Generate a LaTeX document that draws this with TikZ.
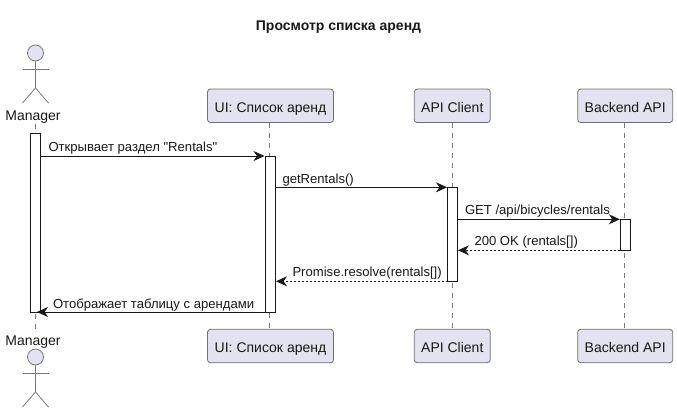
\documentclass[tikz,border=0pt]{standalone}
\usepackage{fontspec}
\setmainfont{Liberation Sans}[Ligatures=TeXOff]
\usetikzlibrary{arrows.meta}
\definecolor{boxfill}{HTML}{E2E2F0}
\definecolor{boxline}{HTML}{6E6E78}
\definecolor{ink}{HTML}{181818}
\definecolor{lifecol}{HTML}{7A7A7A}
\tikzset{
  x=1pt,y=-1pt,
  every node/.style={inner sep=0pt,outer sep=0pt,text=ink},
  party/.style={draw=boxline,fill=boxfill,line width=.8pt,rounded corners=3pt,minimum height=33.5pt,text height=15.5pt,text depth=3pt,font=\fontsize{14}{16}\selectfont},
  actorname/.style={font=\fontsize{14}{16}\selectfont,anchor=base},
  lifeline/.style={draw=lifecol,line width=.7pt,dash pattern=on 5pt off 5pt},
  stick/.style={draw=lifecol,line width=.8pt},
  activation/.style={draw=ink,fill=white,line width=1pt,minimum width=10pt},
  msg/.style={draw=ink,line width=1pt,-{Stealth[length=11pt,width=10pt,inset=3.5pt]}},
  reply/.style={msg,dash pattern=on 2pt off 2pt,-{Stealth[length=11pt,width=10pt,inset=3.5pt,sep=0pt]}},
  msglabel/.style={font=\fontsize{13.1}{15}\selectfont,anchor=base west},
}
\begin{document}
\begin{tikzpicture}
\useasboundingbox (0,0) rectangle (677,413);
\node[font=\bfseries\fontsize{14}{16}\selectfont,anchor=base] (title) at (338.5,30.5) {Просмотр списка аренд};

% participants
\node[actorname] (mT) at (33,120) {Manager};
\node[actorname] (mB) at (33,345) {Manager};
\node[party,minimum width=126pt] (uT) at (270.5,105.8) {UI: Список аренд};
\node[party,minimum width=126pt] (uB) at (270.5,346) {UI: Список аренд};
\node[party,minimum width=76pt] (cT) at (452.3,105.8) {API Client};
\node[party,minimum width=76pt] (cB) at (452.3,346) {API Client};
\node[party,minimum width=95pt] (bT) at (625.2,105.8) {Backend API};
\node[party,minimum width=95pt] (bB) at (625.2,346) {Backend API};

% lifelines
\coordinate (mlT) at (35.5,124);
\coordinate (mlB) at (35.5,329);
\draw[lifeline] (mlT) -- (mlB);
\draw[lifeline] (269.5,122.5) -- (269.5,329.5);
\draw[lifeline] (452.3,122.5) -- (452.3,329.5);
\draw[lifeline] (624.3,122.5) -- (624.3,329.5);

% actors
\begin{scope}[shift={(35.5,53)}]
  \node[circle,draw=lifecol,fill=boxfill,line width=.8pt,minimum size=16pt] (headT) at (0,0) {};
  \draw[stick] (headT.south) -- (0,35) -- (-13,50);
  \draw[stick] (0,35) -- (13,50);
  \draw[stick] (-13,16) -- (13,16);
\end{scope}
\begin{scope}[shift={(35.5,357)}]
  \node[circle,draw=lifecol,fill=boxfill,line width=.8pt,minimum size=16pt] (headB) at (0,0) {};
  \draw[stick] (headB.south) -- (0,35) -- (-13,50);
  \draw[stick] (0,35) -- (13,50);
  \draw[stick] (-13,16) -- (13,16);
\end{scope}

% activations
\node[activation,minimum height=179pt] (aM) at (35.5,222.5) {};
\node[activation,minimum height=156pt] (aU) at (270.5,234) {};
\node[activation,minimum height=94pt] (aC) at (452.5,234.3) {};
\node[activation,minimum height=31pt] (aB) at (625.3,234.8) {};

% messages
\draw[msg] (aM.north east |- aU.north) -- ([xshift=-1pt]aU.north west);
\draw[msg] (aU.east |- aC.north) -- ([xshift=-.5pt]aC.north west);
\draw[msg] (aC.east |- aB.north) -- ([xshift=-.5pt]aB.north west);
\draw[reply] (aB.south west) -- ([xshift=.5pt]aC.east |- aB.south);
\draw[reply] (aC.south west) -- ([xshift=.5pt]aU.east |- aC.south);
\draw[msg] (aU.south west) -- ([xshift=-3.5pt]aM.south east);

% labels
\node[msglabel] (l1) at (48.5,151) {Открывает раздел "Rentals"};
\node[msglabel] (l2) at (282.5,183) {getRentals()};
\node[msglabel] (l3) at (465,214) {GET /api/bicycles/rentals};
\node[msglabel] (l4) at (474.5,245) {200 OK (rentals[])};
\node[msglabel] (l5) at (292.5,276) {Promise.resolve(rentals[])};
\node[msglabel] (l6) at (53,308) {Отображает таблицу с арендами};
\end{tikzpicture}
\end{document}
